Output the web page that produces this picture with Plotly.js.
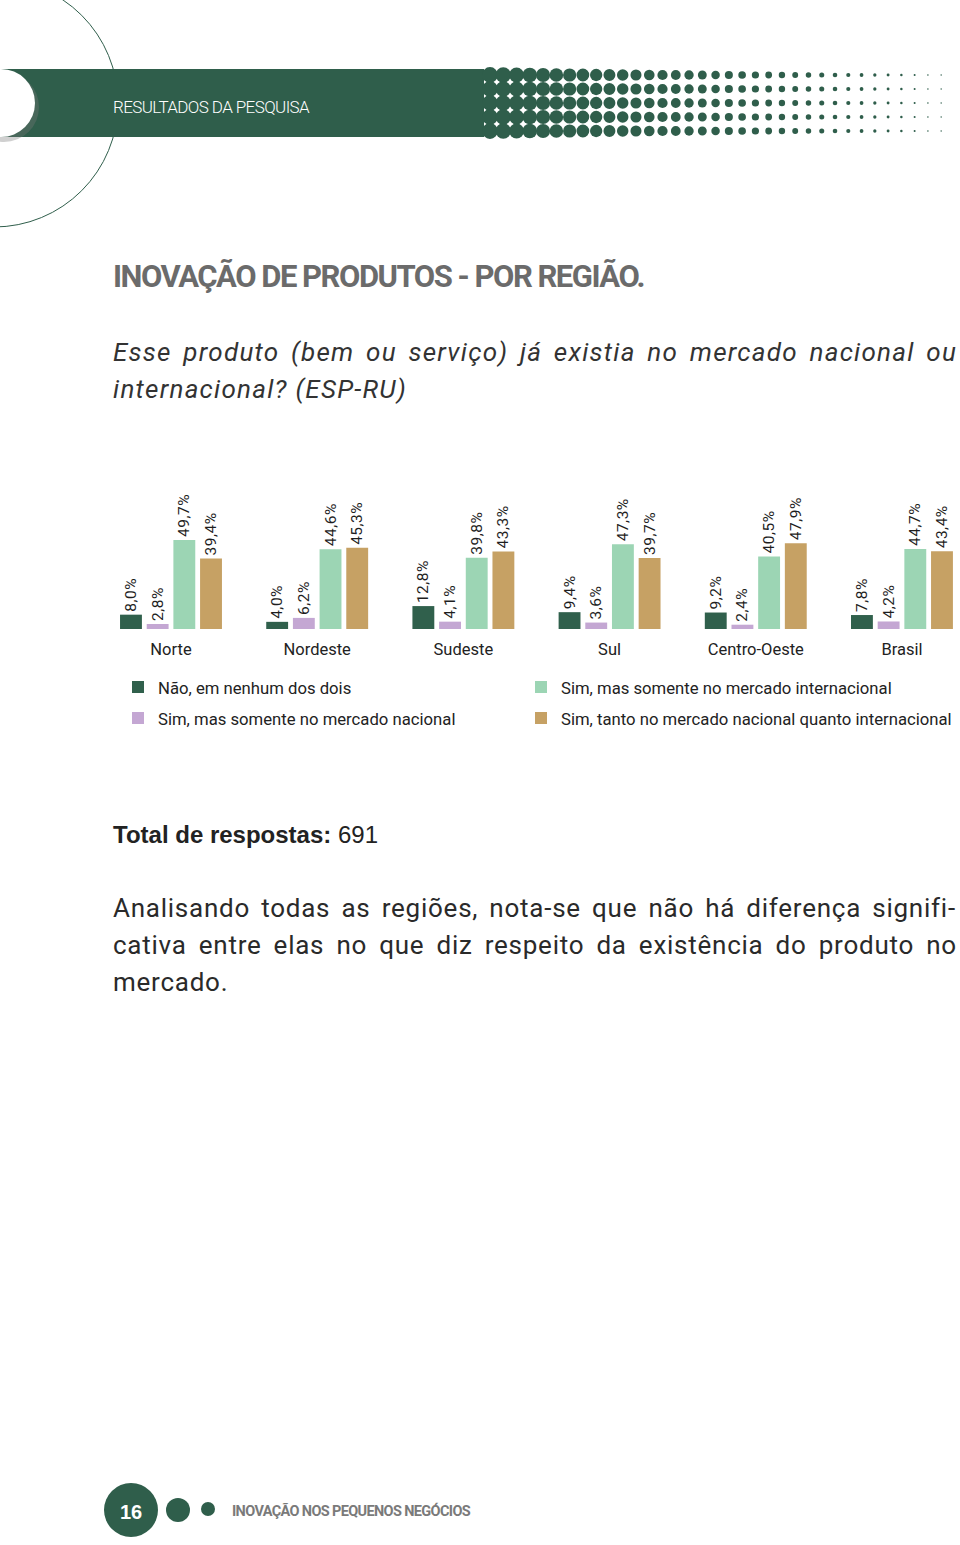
<!DOCTYPE html>
<html>
<head>
<meta charset="utf-8">
<script src="https://cdn.plot.ly/plotly-3.0.1.min.js"></script>
<style>
  html, body { margin: 0; padding: 0; background: #ffffff; overflow: hidden; }
  #chart { width: 960px; height: 1545px; }
</style>
</head>
<body>
<div id="chart"></div>
<script>
// ---------- data ----------
const regions = ['Norte', 'Nordeste', 'Sudeste', 'Sul', 'Centro-Oeste', 'Brasil'];
const naoNenhum = [8.0, 4.0, 12.8, 9.4, 9.2, 7.8];
const simNacional = [2.8, 6.2, 4.1, 3.6, 2.4, 4.2];
const simInternacional = [49.7, 44.6, 39.8, 47.3, 40.5, 44.7];
const simAmbos = [39.4, 45.3, 43.3, 39.7, 47.9, 43.4];
const seriesNames = [
  'Não, em nenhum dos dois',
  'Sim, mas somente no mercado nacional',
  'Sim, mas somente no mercado internacional',
  'Sim, tanto no mercado nacional quanto internacional'
];
const seriesColors = ['#30604c', '#c4a7d3', '#9cd5b4', '#c6a164'];
const totalRespostas = 691;

// ---------- page helpers (pixel -> paper) ----------
const W = 960, H = 1545;
const P = x => x / W;
const Q = y => 1 - y / H;

const COND = 'Roboto, "Liberation Sans", sans-serif';
const SANS = '"Liberation Sans", Arial, sans-serif';
const GREEN = '#2f5e4b';

// text measuring, used only to fit text sizes / spacing to the page widths
const ctx = document.createElement('canvas').getContext('2d');
function measure(text, size, family, weight, style) {
  ctx.font = (style || 'normal') + ' ' + (weight || 400) + ' ' + size + 'px ' + family;
  return ctx.measureText(text).width;
}
function fitLine(text, family, weight, style, size, target, minRatio) {
  let s = size;
  const n = Array.from(text).length;
  for (let k = 0; k < 60; k++) {
    const w = measure(text, s, family, weight, style);
    const ls = (target - w) / n;
    if (ls >= -minRatio * s) return { size: s, ls: Math.min(ls, 0.12 * s) };
    s -= 0.25;
  }
  return { size: s, ls: 0 };
}
function justify(text, family, weight, style, size, ls, target) {
  const n = Array.from(text).length;
  const nSp = (text.match(/ /g) || []).length;
  const w = measure(text, size, family, weight, style) + ls * n;
  return Math.max(-2, (target - w) / Math.max(1, nSp));
}
function sp(text, ls, ws) {
  return '<span style="letter-spacing:' + ls.toFixed(2) + 'px;word-spacing:' + (ws || 0).toFixed(2) + 'px">' + text + '</span>';
}

// ---------- bar label / legend font fitting ----------
const lblSize = 15.5;
const lblLs = Math.max(-1.2, (43 - measure('49,7%', lblSize, COND, 400)) / 5);
let legSize = 16 * 391 / measure(seriesNames[3], 16, COND, 400);
legSize = Math.max(14, Math.min(18, legSize));
const legGap = Math.max(0, 31 - (legSize * 1.3 + 3));

const seriesValues = [naoNenhum, simNacional, simInternacional, simAmbos];
const traces = seriesValues.map((vals, i) => ({
  type: 'bar',
  name: seriesNames[i],
  x: regions,
  y: vals,
  marker: { color: seriesColors[i], line: { width: 0 } },
  texttemplate: '<span style="letter-spacing:' + lblLs.toFixed(2) + 'px">%{y:.1f}%</span>',
  textposition: 'outside',
  textangle: -90,
  constraintext: 'none',
  cliponaxis: false,
  textfont: { family: COND, size: lblSize, color: '#1e1e1e' },
  hoverinfo: 'skip',
  legend: i < 2 ? 'legend' : 'legend2',
  legendgroup: 'g' + i,
  showlegend: true
}));

// ---------- decorative shapes ----------
const shapes = [];
shapes.push({ type: 'circle', xref: 'paper', yref: 'paper',
  x0: P(-130), x1: P(118), y0: Q(227), y1: Q(-21),
  line: { color: GREEN, width: 1 }, fillcolor: 'rgba(0,0,0,0)', layer: 'above' });
shapes.push({ type: 'rect', xref: 'paper', yref: 'paper',
  x0: P(0), x1: P(484), y0: Q(137), y1: Q(69),
  line: { width: 0 }, fillcolor: GREEN, layer: 'above' });
for (let c = 0; c < 35; c++) {
  const cx = 490 + c * 13.27;
  const r = Math.max(0.7, 7.9 - 0.215 * c);
  for (let rw = 0; rw < 5; rw++) {
    const cy = 75 + rw * 14;
    shapes.push({ type: 'circle', xref: 'paper', yref: 'paper',
      x0: P(cx - r), x1: P(cx + r), y0: Q(cy + r), y1: Q(cy - r),
      line: { width: 0 }, fillcolor: GREEN, layer: 'above' });
  }
}
shapes.push({ type: 'circle', xref: 'paper', yref: 'paper',
  x0: P(-31), x1: P(39), y0: Q(142), y1: Q(72),
  line: { width: 0 }, fillcolor: 'rgba(120,120,120,0.35)', layer: 'above' });
shapes.push({ type: 'circle', xref: 'paper', yref: 'paper',
  x0: P(-33), x1: P(35), y0: Q(137), y1: Q(69),
  line: { width: 0 }, fillcolor: '#ffffff', layer: 'above' });
const footCircles = [[131, 1510, 27], [178, 1510, 12], [208, 1509, 7]];
footCircles.forEach(([cx, cy, r]) => shapes.push({ type: 'circle', xref: 'paper', yref: 'paper',
  x0: P(cx - r), x1: P(cx + r), y0: Q(cy + r), y1: Q(cy - r),
  line: { width: 0 }, fillcolor: GREEN, layer: 'above' }));

// ---------- text ----------
function txt(text, x, y, font, extra) {
  return Object.assign({ xref: 'paper', yref: 'paper', x: P(x), y: Q(y),
    xanchor: 'left', yanchor: 'middle', showarrow: false, text: text, font: font,
    align: 'left', borderpad: 0 }, extra || {});
}
const X0 = 112;
const annotations = [];

const banner = 'RESULTADOS DA PESQUISA';
const fb = fitLine(banner, COND, 300, 'normal', 17, 196, 0.05);
annotations.push(txt(sp(banner, fb.ls), X0, 107, { family: COND, size: fb.size, color: '#ffffff', weight: 300 }));

const title = 'INOVAÇÃO DE PRODUTOS - POR REGIÃO.';
const ft = fitLine(title, COND, 700, 'normal', 34, 531, 0.05);
annotations.push(txt(sp(title, ft.ls), X0, 276, { family: COND, size: ft.size, color: '#6b6b6b', weight: 700 }));

const q1 = 'Esse produto (bem ou serviço) já existia no mercado nacional ou';
const q2 = 'internacional? (ESP-RU)';
const fq = fitLine(q1, COND, 400, 'italic', 26, 844 - 10 * 4, 0.04);
const wsq = justify(q1, COND, 400, 'italic', fq.size, fq.ls, 844);
annotations.push(txt(sp(q1, fq.ls, wsq), X0, 352, { family: COND, size: fq.size, color: '#333333', style: 'italic' }));
annotations.push(txt(sp(q2, fq.ls), X0, 389, { family: COND, size: fq.size, color: '#333333', style: 'italic' }));

annotations.push(txt('<b>Total de respostas:</b> ' + totalRespostas, X0, 834, { family: SANS, size: 24, color: '#222222' }));

const p1 = 'Analisando todas as regiões, nota-se que não há diferença signifi-';
const p2 = 'cativa entre elas no que diz respeito da existência do produto no';
const p3 = 'mercado.';
const fp = fitLine(p1, COND, 400, 'normal', 26, 842 - 9 * 4, 0.04);
const ws1 = justify(p1, COND, 400, 'normal', fp.size, fp.ls, 842);
const ws2 = justify(p2, COND, 400, 'normal', fp.size, fp.ls, 844);
annotations.push(txt(sp(p1, fp.ls, ws1), X0, 908, { family: COND, size: fp.size, color: '#2a2a2a' }));
annotations.push(txt(sp(p2, fp.ls, ws2), X0, 945, { family: COND, size: fp.size, color: '#2a2a2a' }));
annotations.push(txt(sp(p3, fp.ls), X0, 982, { family: COND, size: fp.size, color: '#2a2a2a' }));

annotations.push(txt('16', 131, 1512, { family: SANS, size: 20, color: '#ffffff', weight: 700 }, { xanchor: 'center' }));
const foot = 'INOVAÇÃO NOS PEQUENOS NEGÓCIOS';
const ff = fitLine(foot, COND, 700, 'normal', 15.5, 238, 0.05);
annotations.push(txt(sp(foot, ff.ls), 231, 1511, { family: COND, size: ff.size, color: '#7a7a7a', weight: 700 }));

const legendBase = {
  yanchor: 'top', xanchor: 'left', orientation: 'v', traceorder: 'grouped', tracegroupgap: legGap,
  font: { family: COND, size: legSize, color: '#222222' },
  bgcolor: 'rgba(0,0,0,0)', borderwidth: 0, itemclick: false, itemdoubleclick: false
};
const legTop = 687 - (legSize * 1.3 + 3) / 2 - 5;

const layout = {
  width: W, height: H,
  margin: { l: 0, r: 0, t: 0, b: 0, pad: 0, autoexpand: false },
  paper_bgcolor: '#ffffff', plot_bgcolor: 'rgba(0,0,0,0)',
  separators: ',.',
  barmode: 'group',
  bargap: 0.27,
  bargroupgap: 0.18,
  xaxis: {
    domain: [P(100), 1],
    range: [-0.4856, 5.397],
    type: 'category',
    showgrid: false, zeroline: false, showline: false, ticks: '',
    ticklabelstandoff: 8,
    tickfont: { family: COND, size: 16.5, color: '#222222' },
    fixedrange: true
  },
  yaxis: {
    domain: [Q(629), Q(480)],
    range: [0, 83.2],
    visible: false, showgrid: false, zeroline: false, fixedrange: true
  },
  legend: Object.assign({ x: P(118), y: Q(legTop) }, legendBase),
  legend2: Object.assign({ x: P(521), y: Q(legTop) }, legendBase),
  shapes: shapes,
  annotations: annotations,
  showlegend: true
};

Plotly.newPlot('chart', traces, layout, { staticPlot: true, displayModeBar: false });
</script>
</body>
</html>
